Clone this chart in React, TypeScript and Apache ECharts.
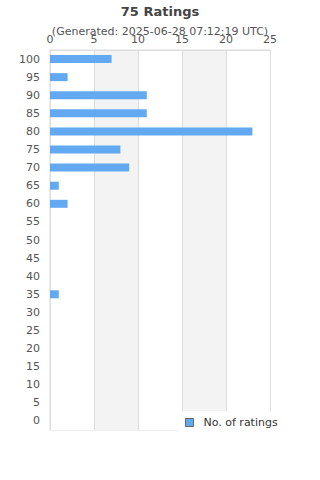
import React, { useEffect, useRef } from "react";
import * as echarts from "echarts";

const categories = ["0","5","10","15","20","25","30","35","40","45","50","55","60","65","70","75","80","85","90","95","100"];
const ratingCounts = [0,0,0,0,0,0,0,1,0,0,0,0,2,1,9,8,23,11,11,2,7];
const titleText = "75 Ratings";
const subtitleText = "(Generated: 2025-06-28 07:12:19 UTC)";
const seriesName = "No. of ratings";

const FONT = "DejaVu Sans";

export default function App() {
  const ref = useRef<HTMLDivElement>(null);
  useEffect(() => {
    if (!ref.current) return;
    const chart = echarts.init(ref.current, undefined, { renderer: "svg" });
    chart.setOption({
      animation: false,
      textStyle: { fontFamily: FONT },
      title: [
        {
          text: titleText,
          left: "center",
          top: 0,
          textStyle: { fontSize: 13, fontWeight: "bold", color: "#444", fontFamily: FONT },
        },
        {
          text: subtitleText,
          left: "center",
          top: 21,
          textStyle: { fontSize: 11, fontWeight: "normal", color: "#555", fontFamily: FONT },
        },
      ],
      grid: {
        left: 50,
        right: 50,
        top: 50,
        bottom: 50,
        show: true,
        borderColor: "#ddd",
        borderWidth: 1,
        backgroundColor: "transparent",
      },
      xAxis: {
        type: "value",
        position: "top",
        min: 0,
        max: 25,
        interval: 5,
        axisLine: { show: true, lineStyle: { color: "#ddd" } },
        axisTick: { show: false },
        axisLabel: { color: "#555", fontSize: 11, margin: 5, fontFamily: FONT },
        splitLine: { show: true, lineStyle: { color: "#ddd" } },
        splitArea: { show: true, areaStyle: { color: ["#ffffff", "#f3f3f3"] } },
      },
      yAxis: {
        type: "category",
        data: categories,
        axisLine: { show: true, lineStyle: { color: "#ddd" } },
        axisTick: { show: false },
        axisLabel: { color: "#555", fontSize: 11, margin: 10, fontFamily: FONT },
        splitLine: { show: false },
      },
      legend: {
        data: [seriesName],
        left: 178,
        top: 411,
        backgroundColor: "#fff",
        padding: [6, 6, 7, 7],
        itemWidth: 8,
        itemHeight: 8,
        icon: "rect",
        itemStyle: { borderColor: "#666", borderWidth: 1 },
        textStyle: { fontSize: 11, color: "#333", fontFamily: FONT, padding: [0, 0, 0, 5] },
      },
      series: [
        {
          name: seriesName,
          type: "bar",
          data: ratingCounts,
          barWidth: 8,
          itemStyle: { color: "#63a9f2" },
        },
      ],
    });
    return () => chart.dispose();
  }, []);
  return <div ref={ref} style={{ position: "absolute", left: 0, top: 0, width: 320, height: 480 }} />;
}
